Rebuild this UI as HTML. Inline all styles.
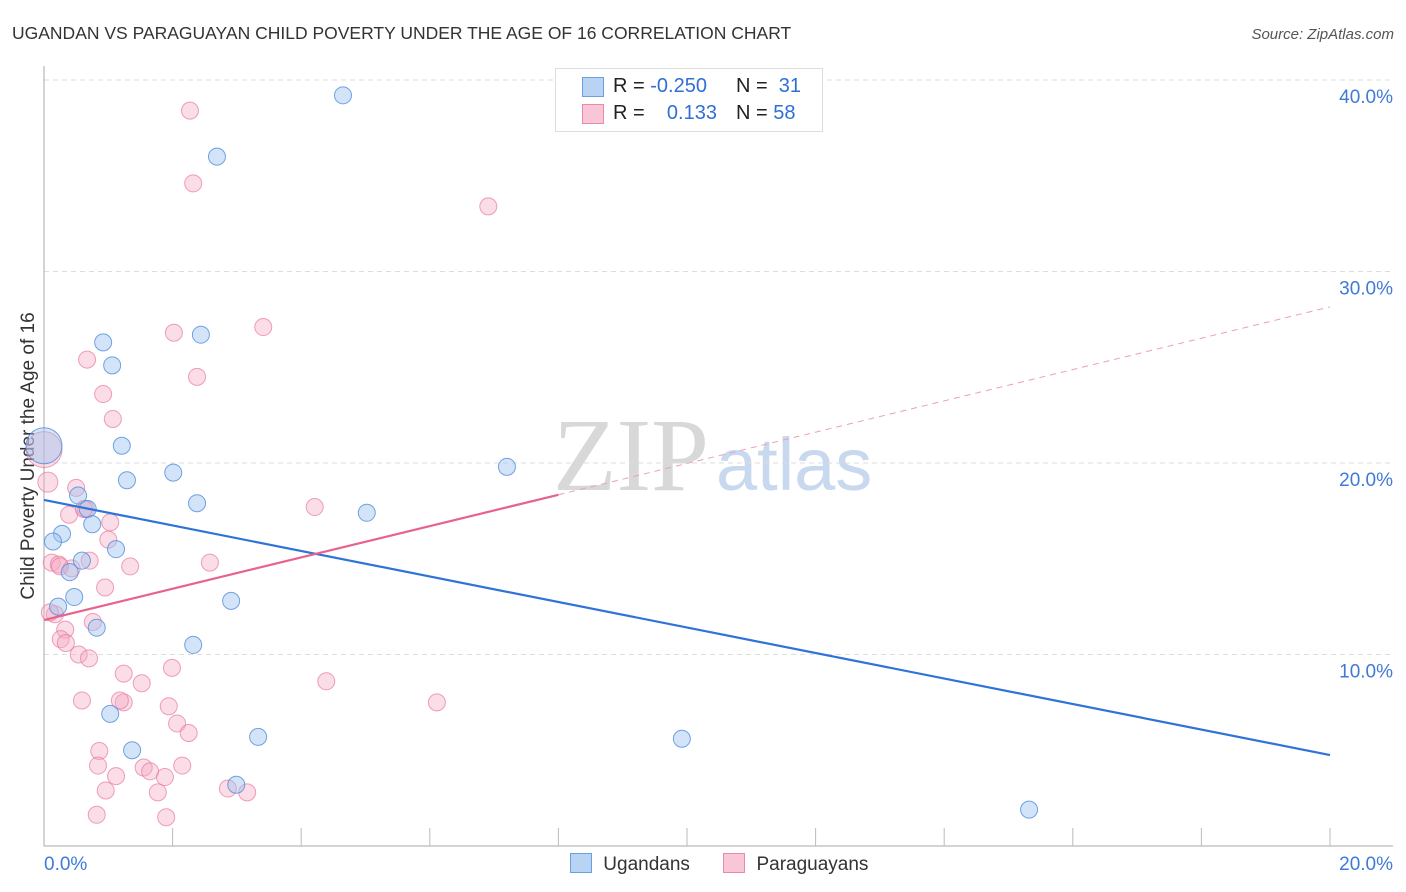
<!DOCTYPE html>
<html><head><meta charset="utf-8">
<style>
body{margin:0;background:#fff;font-family:"Liberation Sans",sans-serif;}
#wrap{position:relative;width:1406px;height:892px;overflow:hidden;}
</style></head>
<body>
<div id="wrap">
<svg id="svg" width="1406" height="892" xmlns="http://www.w3.org/2000/svg">
<text x="12" y="39" font-size="17.5" fill="#333">UGANDAN VS PARAGUAYAN CHILD POVERTY UNDER THE AGE OF 16 CORRELATION CHART</text>
<text x="1394" y="39" font-size="15" fill="#555" font-style="italic" text-anchor="end">Source: ZipAtlas.com</text>
<text x="34" y="456" font-size="19" fill="#333" text-anchor="middle" transform="rotate(-90 34 456)">Child Poverty Under the Age of 16</text>
<text x="553" y="490" font-size="104" fill="#d8d8d8" font-family="Liberation Serif,serif">ZIP</text>
<text x="716" y="490" font-size="74" fill="#c8d8ee">atlas</text>
<g id="grid"></g><g id="pts"></g><g id="lines"></g>
</svg>
<div style="position:absolute;left:555px;top:68px;width:266px;height:62px;border:1px solid #ddd;background:#fff;font-size:20px;color:#222;">
 <div style="position:absolute;left:26px;top:8px;width:20px;height:18px;background:#b9d3f5;border:1px solid #6a9fe0"></div>
 <div style="position:absolute;left:57px;top:6px">R = <span style="color:#2f6fd6">-0.250</span></div>
 <div style="position:absolute;left:180px;top:6px">N = &nbsp;<span style="color:#2f6fd6">31</span></div>
 <div style="position:absolute;left:26px;top:35px;width:20px;height:18px;background:#f8c6d6;border:1px solid #e88aa8"></div>
 <div style="position:absolute;left:57px;top:33px">R = &nbsp;&nbsp;&nbsp;<span style="color:#2f6fd6">0.133</span></div>
 <div style="position:absolute;left:180px;top:33px">N = <span style="color:#2f6fd6">58</span></div>
</div>
<div style="position:absolute;top:853px;left:570px;font-size:19px;color:#333;">
 <span style="display:inline-block;width:20px;height:18px;background:#b9d3f5;border:1px solid #6a9fe0;vertical-align:-3px"></span>
 <span style="margin-left:6px">Ugandans</span>
 <span style="display:inline-block;width:20px;height:18px;background:#f8c6d6;border:1px solid #e88aa8;vertical-align:-3px;margin-left:28px"></span>
 <span style="margin-left:6px">Paraguayans</span>
</div>
</div>
<script>
const xTicks=[0,2,4,6,8,10,12,14,16,18,20];
const yTicks=[10,20,30,40];
const ugX=[4.65,2.69,0.92,2.44,1.06,1.21,0,2.01,1.29,7.2,0.53,0.68,2.38,0.75,5.02,0.28,0.14,1.12,0.59,0.4,0.47,0.22,0.82,2.32,2.91,1.03,1.37,3.33,2.99,9.92,15.32];
const ugY=[39.2,36.0,26.3,26.7,25.1,20.9,20.9,19.5,19.1,19.8,18.3,17.6,17.9,16.8,17.4,16.3,15.9,15.5,14.9,14.3,13.0,12.5,11.4,10.5,12.8,6.9,5.0,5.7,3.2,5.6,1.9];
const ugR=[8.5,8.5,8.5,8.5,8.5,8.5,18,8.5,8.5,8.5,8.5,8.5,8.5,8.5,8.5,8.5,8.5,8.5,8.5,8.5,8.5,8.5,8.5,8.5,8.5,8.5,8.5,8.5,8.5,8.5,8.5];
const pgX=[2.27,2.32,6.91,3.41,2.02,0.67,2.38,0.92,1.07,0,0.06,0.5,0.65,0.39,1.03,4.21,1.0,0.12,0.23,0.43,0.71,1.34,2.58,0.95,0.76,0.17,0.33,0.26,0.34,0.54,0.7,1.24,1.99,1.52,4.39,0.59,1.24,1.94,6.11,2.07,2.25,0.86,0.84,1.55,2.15,1.12,1.65,1.88,0.96,1.77,2.86,3.16,0.82,1.9,0.09,0.25,0.62,1.18];
const pgY=[38.4,34.6,33.4,27.1,26.8,25.4,24.5,23.6,22.3,20.7,19.0,18.7,17.6,17.3,16.9,17.7,16.0,14.8,14.7,14.5,14.9,14.6,14.8,13.5,11.7,12.1,11.3,10.8,10.6,10.0,9.8,9.0,9.3,8.5,8.6,7.6,7.5,7.3,7.5,6.4,5.9,4.96,4.2,4.1,4.2,3.65,3.9,3.6,2.9,2.8,3.0,2.8,1.63,1.5,12.2,14.6,17.6,7.6];
const pgR=[8.5,8.5,8.5,8.5,8.5,8.5,8.5,8.5,8.5,18,10,8.5,8.5,8.5,8.5,8.5,8.5,8.5,8.5,8.5,8.5,8.5,8.5,8.5,8.5,8.5,8.5,8.5,8.5,8.5,8.5,8.5,8.5,8.5,8.5,8.5,8.5,8.5,8.5,8.5,8.5,8.5,8.5,8.5,8.5,8.5,8.5,8.5,8.5,8.5,8.5,8.5,8.5,8.5,8.5,8.5,8.5,8.5];
const ugLine=[18.07,4.75];
const pgLine=[11.8,28.15];
const pgSolidEnd=8;
const X=v=>44+v*64.3, Y=v=>846-v*19.15;
const NS='http://www.w3.org/2000/svg';
function mk(t,a,p){const e=document.createElementNS(NS,t);for(const k in a)e.setAttribute(k,a[k]);p.appendChild(e);return e;}
const grid=document.getElementById('grid'),pts=document.getElementById('pts'),lines=document.getElementById('lines');
yTicks.forEach(t=>{
 const l=mk('line',{x1:44,x2:1393,y1:Y(t),y2:Y(t),stroke:'#ddd','stroke-dasharray':'5,4'},grid);
 
 
 const tx=mk('text',{x:1393,y:Y(t)+23,'font-size':19,fill:'#3f7ad6','text-anchor':'end'},grid);
 tx.textContent=t.toFixed(1)+'%';
 
 
});
const ax=mk('line',{x1:44,x2:44,y1:66,y2:846,stroke:'#aaa'},grid);


const bx=mk('line',{x1:44,x2:1393,y1:846,y2:846,stroke:'#aaa'},grid);


xTicks.forEach(t=>{
 const l=mk('line',{x1:X(t),x2:X(t),y1:846,y2:t==0?846:828,stroke:'#bbb'},grid);
 
 
});
[[0,'start',44],[20,'end',1393]].forEach(([t,a,x])=>{
 const tx=mk('text',{x:x,y:870,'font-size':19,fill:'#3f7ad6','text-anchor':a},grid);
 tx.textContent=t.toFixed(1)+'%';
 
 
});
pgX.forEach((v,i)=>{
 const c=mk('circle',{cx:X(v),cy:Y(pgY[i]),r:pgR[i],fill:'rgba(244,170,195,0.4)',stroke:'rgba(232,120,160,0.7)','stroke-width':1},pts);
 
 
});
ugX.forEach((v,i)=>{
 const c=mk('circle',{cx:X(v),cy:Y(ugY[i]),r:ugR[i],fill:'rgba(160,195,240,0.45)',stroke:'rgba(80,140,220,0.8)','stroke-width':1},pts);
 
 
});
const pAt=x=>pgLine[0]+(pgLine[1]-pgLine[0])*x/20;
const l1=mk('line',{x1:X(0),y1:Y(ugLine[0]),x2:X(20),y2:Y(ugLine[1]),stroke:'#2f73d8','stroke-width':2.2},lines);


const l2=mk('line',{x1:X(0),y1:Y(pAt(0)),x2:X(pgSolidEnd),y2:Y(pAt(pgSolidEnd)),stroke:'#e8628f','stroke-width':2.2},lines);


const l3=mk('line',{x1:X(pgSolidEnd),y1:Y(pAt(pgSolidEnd)),x2:X(20),y2:Y(pAt(20)),stroke:'#e8a0b8','stroke-width':1,'stroke-dasharray':'6,5'},lines);


</script>
</body></html>
